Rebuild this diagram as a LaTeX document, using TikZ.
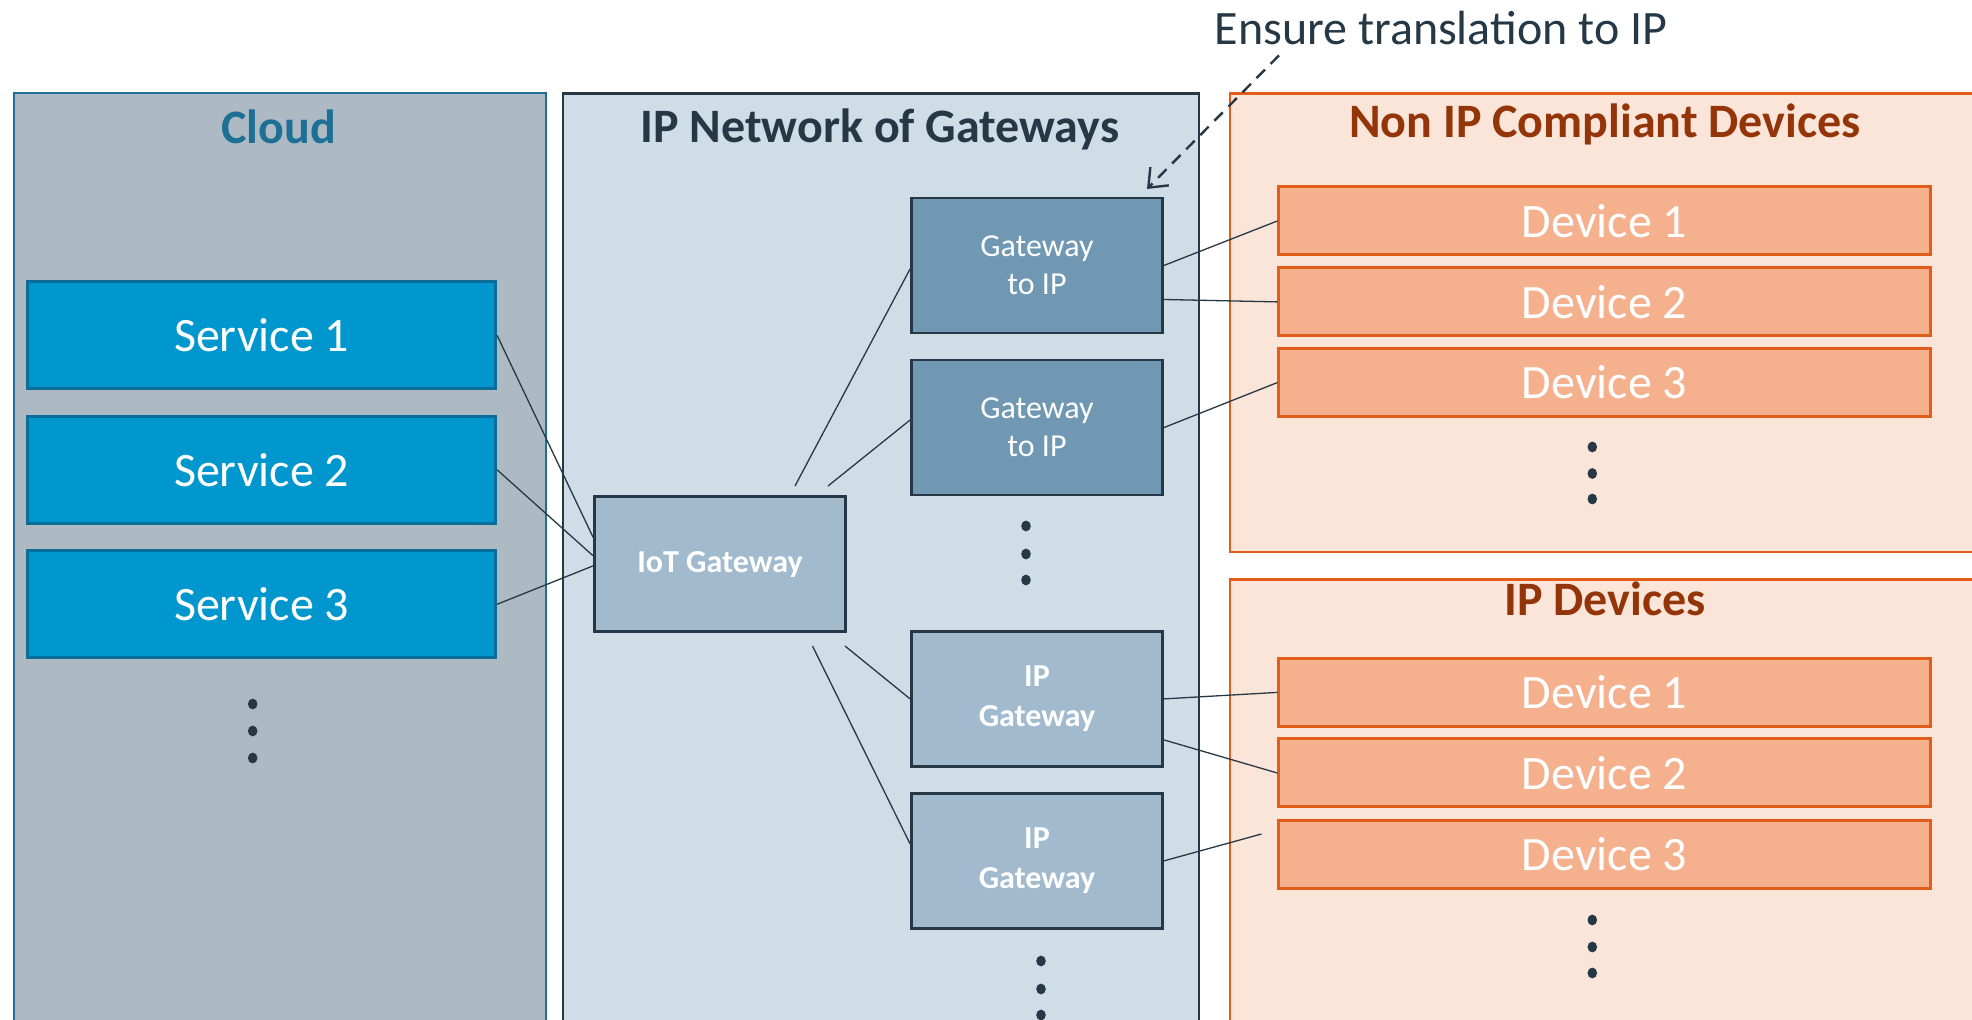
\documentclass[tikz,border=0pt]{standalone}
\usepackage{fontspec}
\setmainfont{Carlito}
\usetikzlibrary{arrows.meta}

\definecolor{cloudgray}{HTML}{ADBAC4}
\definecolor{cloudline}{HTML}{1C6F95}
\definecolor{servblue}{HTML}{0096CE}
\definecolor{servline}{HTML}{0A6E98}
\definecolor{netfill}{HTML}{CFDDE6}
\definecolor{slate}{HTML}{263846}
\definecolor{gwdark}{HTML}{7098B3}
\definecolor{gwlight}{HTML}{A1BACD}
\definecolor{devpanel}{HTML}{FBE4D8}
\definecolor{devfill}{HTML}{F5B08E}
\definecolor{devline}{HTML}{E05E1A}
\definecolor{devtitle}{HTML}{943509}

\tikzset{
  panel/.style={draw, line width=1.2pt, inner sep=0pt, anchor=north west},
  title/.style={font=\bfseries\fontsize{24}{28}\selectfont, anchor=base},
  service/.style={draw=servline, fill=servblue, line width=1.5pt, text=white, inner sep=0pt,
    minimum width=234pt, minimum height=53.5pt, font=\fontsize{24}{28}\selectfont},
  gwbox/.style={draw=slate, line width=1.4pt, text=white, inner sep=0pt, align=center,
    minimum width=125.5pt, minimum height=67.5pt, font=\fontsize{16}{19}\selectfont},
  gwbold/.style={gwbox, fill=gwlight, font=\bfseries\fontsize{16}{20}\selectfont},
  device/.style={draw=devline, fill=devfill, line width=1.5pt, text=white, inner sep=0pt,
    minimum width=325.6pt, minimum height=34pt, font=\fontsize{24}{28}\selectfont},
  link/.style={draw=slate, line width=0.65pt},
}

\begin{document}
\begin{tikzpicture}[x=0.5pt, y=-0.5pt, >={Straight Barb[length=8pt,width=13pt]}]
%\draw[help lines, color=gray!30] (0,0) grid[step=100] (1972,1020);
\useasboundingbox (0,0) rectangle (1972,1020);

\node[panel, draw=cloudline, fill=cloudgray, minimum width=266pt, minimum height=469pt] (cloud) at (12.6,91.8) {};
\node[panel, draw=slate, fill=netfill, minimum width=317.8pt, minimum height=469pt] (ipnet) at (562,92.5) {};
\node[panel, draw=devline, fill=devpanel, minimum width=380.6pt, minimum height=229.3pt] (nonip) at (1228.8,92.5) {};
\node[panel, draw=devline, fill=devpanel, minimum width=380.6pt, minimum height=225.8pt] (ipdev) at (1228.8,578.5) {};

\node[title, text=cloudline] (cloudtitle) at (278.6,144) {Cloud};
\node[title, text=slate] (nettitle) at (880,143) {IP Network of Gateways};
\node[title, text=devtitle] (nonipt) at (1605,138) {Non IP Compliant Devices};
\node[title, text=devtitle] (ipdevt) at (1605,616) {IP Devices};
\node[anchor=base, text=slate, font=\fontsize{24}{28}\selectfont] (note) at (1441,45) {Ensure translation to IP};

\node[service] (s1) at (261.6,335.4) {Service 1};
\node[service] (s2) at (261.6,469.8) {Service 2};
\node[service] (s3) at (261.6,604.3) {Service 3};

\node[gwbold] (iot) at (720,564.3) {IoT Gateway};
\node[gwbox, fill=gwdark] (gw1) at (1037,265.5) {Gateway\\to IP};
\node[gwbox, fill=gwdark] (gw2) at (1037,427.6) {Gateway\\to IP};
\node[gwbold] (ipgw1) at (1037,698.9) {IP\\Gateway};
\node[gwbold] (ipgw2) at (1037,860.9) {IP\\Gateway};

\node[device] (nd1) at (1604.4,221) {Device 1};
\node[device] (nd2) at (1604.4,301.9) {Device 2};
\node[device] (nd3) at (1604.4,382.6) {Device 3};
\node[device] (id1) at (1604.4,692.4) {Device 1};
\node[device] (id2) at (1604.4,773) {Device 2};
\node[device] (id3) at (1604.4,854.2) {Device 3};

\foreach \x/\y in {252.7/704, 252.7/731, 252.7/758, 1026/526, 1026/554, 1026/580,
  1041/961, 1041/989, 1041/1015, 1592.3/447, 1592.3/473.5, 1592.3/499,
  1592.3/920, 1592.3/947, 1592.3/973}
  \fill[slate] (\x,\y) ellipse (2.4pt and 2.7pt);

\coordinate (up1) at (795,486);
\coordinate (up2) at (828,486);
\coordinate (dn1) at (845,646);
\coordinate (dn2) at (812.5,646);
\coordinate (gap) at (1261.5,834);
\coordinate (notestart) at (1279,55.4);
\coordinate (notetip) at (1147,189);

\draw[link] (s1.east) -- ([yshift=13.5pt]iot.west);
\draw[link] (s2.east) -- ([yshift=4.25pt]iot.west);
\draw[link] (s3.east) -- ([yshift=-0.8pt]iot.west);
\draw[link] (up1) -- ([yshift=-1.7pt]gw1.west);
\draw[link] (up2) -- ([yshift=3.8pt]gw2.west);
\draw[link] (dn1) -- (ipgw1.west);
\draw[link] (dn2) -- ([yshift=8.5pt]ipgw2.west);
\draw[link] (gw1.east) -- (nd1.west);
\draw[link] ([yshift=-17pt]gw1.east) -- (nd2.west);
\draw[link] (gw2.east) -- (nd3.west);
\draw[link] (ipgw1.east) -- (id1.west);
\draw[link] ([yshift=-20.5pt]ipgw1.east) -- (id2.west);
\draw[link] (ipgw2.east) -- (gap);
\draw[->, slate, line width=1.2pt, dash pattern=on 6pt off 4pt] (notestart) -- (notetip);
\end{tikzpicture}
\end{document}
